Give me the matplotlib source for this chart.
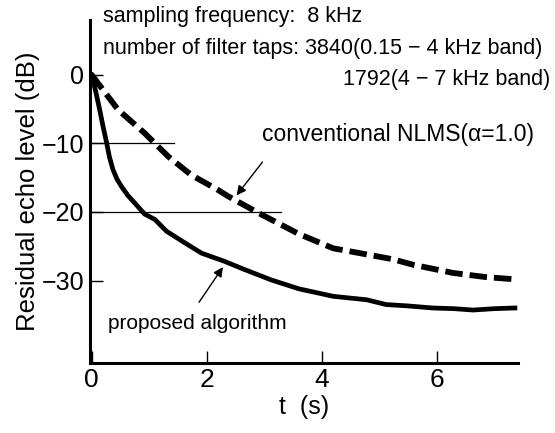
import matplotlib
matplotlib.use("Agg")
import matplotlib.pyplot as plt

# residual echo level curves
t_prop = [0, 0.07, 0.14, 0.2, 0.26, 0.31, 0.37, 0.44, 0.52, 0.63, 0.75, 0.92, 1.1, 1.3, 1.62,
          1.91, 2.31, 2.66, 3.12, 3.6, 4.2, 4.78, 5.12, 5.5, 5.93, 6.3, 6.63, 7.0, 7.36]
v_prop = [0, -2.4, -5.1, -7.6, -9.9, -12.0, -13.8, -15.2, -16.3, -17.6, -18.7, -20.3, -21.1,
          -22.8, -24.5, -26.0, -27.2, -28.4, -29.9, -31.2, -32.3, -32.8, -33.5, -33.7, -34.0,
          -34.1, -34.3, -34.1, -34.0]

t_nlms = [0, 0.46, 0.92, 1.33, 1.73, 2.2, 2.37, 2.89, 3.6, 4.2, 4.66, 5.24, 5.59, 6.29, 6.86, 7.33]
v_nlms = [0, -5.1, -8.5, -11.9, -14.6, -16.8, -17.7, -20.1, -23.2, -25.3, -26.0, -26.9, -27.7,
          -28.9, -29.5, -29.8]

xticks = [0, 2, 4, 6]
yticks = [0, -10, -20, -30]
ytick_labels = ['0', '\u221210', '\u221220', '\u221230']

plt.rcParams['font.family'] = ['Liberation Sans', 'DejaVu Sans']

fig = plt.figure(figsize=(5.55, 4.33), dpi=100)
ax = fig.add_axes([0.162, 0.162, 0.771, 0.792])

# guide lines at -10 and -20 dB
ax.plot([0, 1.44], [-10, -10], color='black', lw=0.9)
ax.plot([0, 3.3], [-20, -20], color='black', lw=0.9)

ax.plot(t_nlms, v_nlms, color='black', lw=4.2, linestyle=(0, (3.0, 1.2)),
        dash_capstyle='butt')
ax.plot(t_prop, v_prop, color='black', lw=3.4, solid_joinstyle='round')

ax.set_xlim(-0.03, 7.41)
ax.set_ylim(-42, 8)
ax.set_xticks(xticks)
ax.set_xticklabels([str(x) for x in xticks])
ax.set_yticks(yticks)
ax.set_yticklabels(ytick_labels)

for side in ['top', 'right']:
    ax.spines[side].set_visible(False)
for side in ['left', 'bottom']:
    ax.spines[side].set_linewidth(2.2)
ax.tick_params(direction='in', length=9, width=1, labelsize=18, pad=4)
ax.tick_params(axis='x', labelsize=19)

ax.set_xlabel('t  (s)', fontsize=18, labelpad=2)
ax.set_ylabel('Residual echo level (dB)', fontsize=18.5, labelpad=1)

ax.text(0.19, 8.5, 'sampling frequency:  8 kHz', fontsize=15.5, va='center')
ax.text(0.19, 3.9, 'number of filter taps: 3840(0.15 \u2212 4 kHz band)', fontsize=15.5,
        va='center')
ax.text(7.97, -0.7, '1792(4 \u2212 7 kHz band)', fontsize=15.5, va='center', ha='right')
ax.text(2.96, -8.7, 'conventional NLMS(\u03b1=1.0)', fontsize=16.5, va='center')
ax.text(0.28, -36.2, 'proposed algorithm', fontsize=15, va='center')

ax.annotate('', xy=(2.49, -17.9), xytext=(3.0, -12.4),
            arrowprops=dict(arrowstyle='-|>', color='black', lw=1, mutation_scale=14))
ax.annotate('', xy=(2.31, -27.7), xytext=(1.84, -33.5),
            arrowprops=dict(arrowstyle='-|>', color='black', lw=1, mutation_scale=14))

fig.savefig('out.png', dpi=100)
